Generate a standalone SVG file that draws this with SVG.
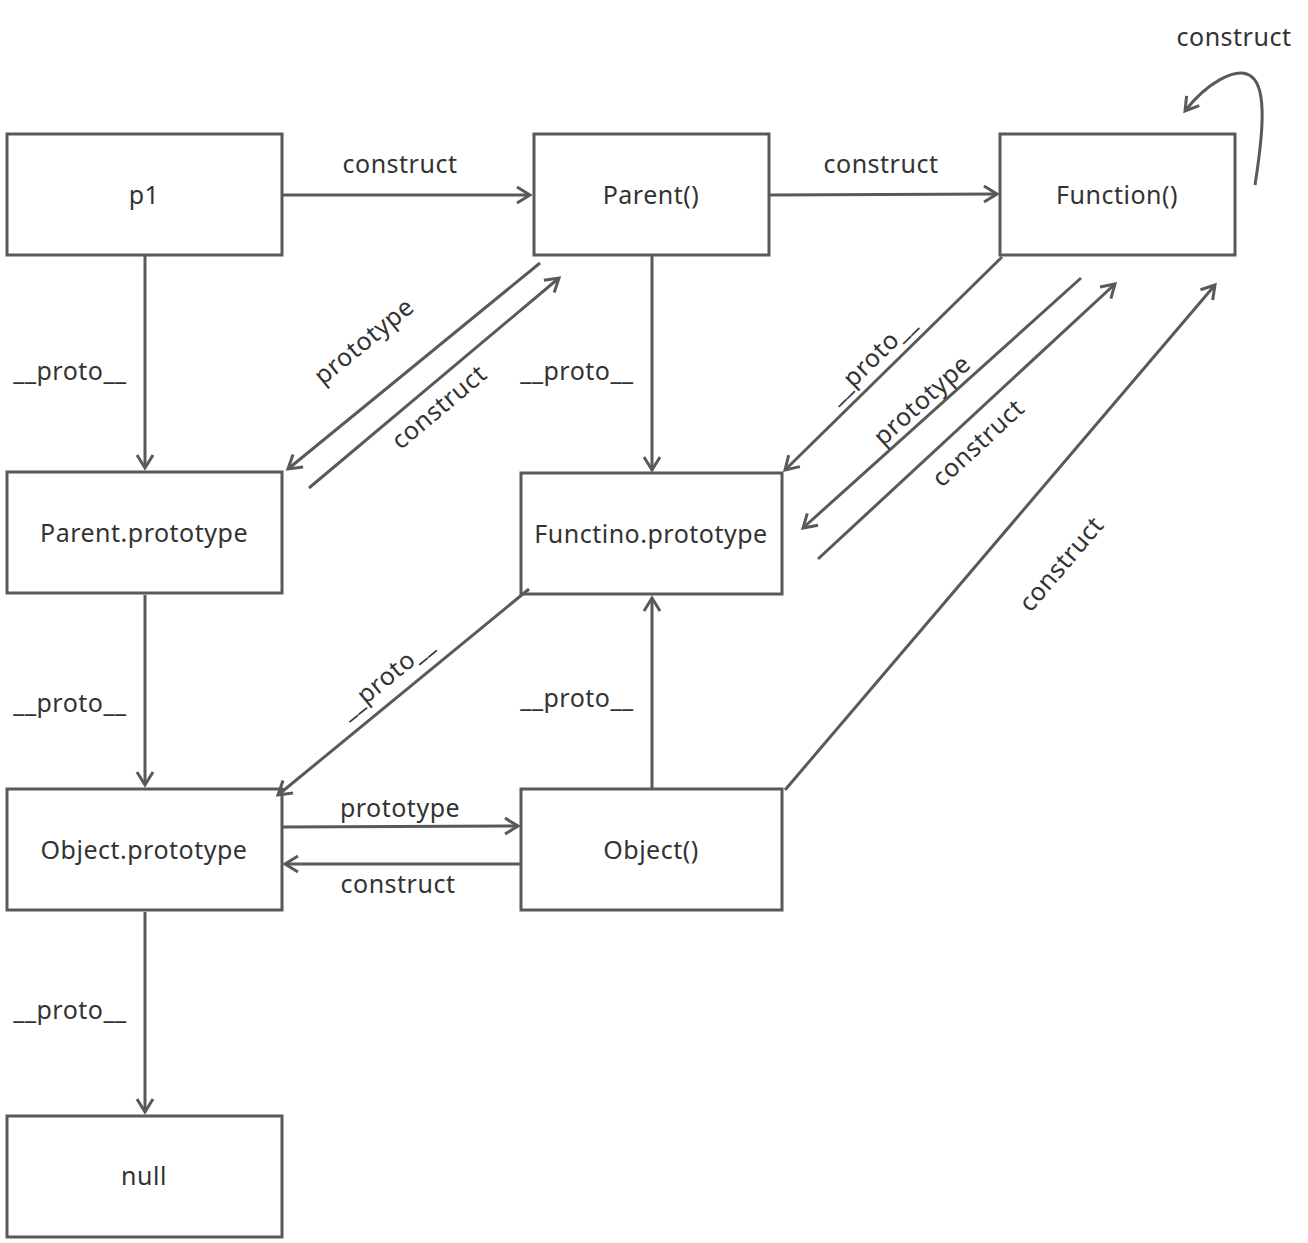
<svg xmlns="http://www.w3.org/2000/svg" width="1308" height="1243" viewBox="0 0 1308 1243">
<defs>
<marker id="ah" viewBox="0 0 20 20" refX="16" refY="10" markerWidth="20" markerHeight="20" markerUnits="userSpaceOnUse" orient="auto">
<path d="M3,2 L16,10 L3,18" fill="none" stroke="#595959" stroke-width="3"/>
</marker>
</defs>
<style>
.box{fill:#fff;stroke:#595959;stroke-width:3}
.t{font-family:"Noto Sans","Open Sans",sans-serif;font-size:25px;letter-spacing:0.5px;fill:#333;text-anchor:middle;dominant-baseline:central}
.c{fill:none;stroke:#595959;stroke-width:3;marker-end:url(#ah)}
</style>
<rect width="1308" height="1243" fill="#fff"/>
<g id="p1"><rect class="box" x="7" y="134" width="275" height="121"/><text class="t" x="144" y="194">p1</text></g>
<g id="parent"><rect class="box" x="534" y="134" width="235" height="121"/><text class="t" x="651" y="194">Parent()</text></g>
<g id="function"><rect class="box" x="1000" y="134" width="235" height="121"/><text class="t" x="1117" y="194">Function()</text></g>
<g id="parentproto"><rect class="box" x="7" y="472" width="275" height="121"/><text class="t" x="144" y="532">Parent.prototype</text></g>
<g id="funcproto"><rect class="box" x="521" y="473" width="261" height="121"/><text class="t" x="651" y="533">Functino.prototype</text></g>
<g id="objproto"><rect class="box" x="7" y="789" width="275" height="121"/><text class="t" x="144" y="849">Object.prototype</text></g>
<g id="object"><rect class="box" x="521" y="789" width="261" height="121"/><text class="t" x="651" y="849">Object()</text></g>
<g id="null"><rect class="box" x="7" y="1116" width="275" height="121"/><text class="t" x="144" y="1175">null</text></g>
<g id="connectors">
<line class="c" x1="283" y1="195" x2="530" y2="195"/>
<text class="t" x="400" y="163">construct</text>
<line class="c" x1="770" y1="195" x2="997" y2="194"/>
<text class="t" x="881" y="163">construct</text>
<line class="c" x1="145" y1="256" x2="145" y2="468"/>
<text class="t" x="70" y="370">__proto__</text>
<line class="c" x1="540" y1="263" x2="288" y2="469"/>
<text class="t" transform="translate(363,340) rotate(-39.3)">prototype</text>
<line class="c" x1="309" y1="488" x2="559" y2="278"/>
<text class="t" transform="translate(438,406) rotate(-40)">construct</text>
<line class="c" x1="652" y1="256" x2="652" y2="470"/>
<text class="t" x="577" y="370">__proto__</text>
<line class="c" x1="1002" y1="257" x2="785" y2="470"/>
<text class="t" transform="translate(870,358) rotate(-44.5)">__proto__</text>
<line class="c" x1="1081" y1="278" x2="803" y2="528"/>
<text class="t" transform="translate(921,399) rotate(-42)">prototype</text>
<line class="c" x1="818" y1="559" x2="1115" y2="284"/>
<text class="t" transform="translate(977,442) rotate(-42.8)">construct</text>
<line class="c" x1="785" y1="790" x2="1215" y2="285"/>
<text class="t" transform="translate(1060,563) rotate(-49.6)">construct</text>
<line class="c" x1="529" y1="589" x2="278" y2="795"/>
<text class="t" transform="translate(385,676) rotate(-39.4)">__proto__</text>
<line class="c" x1="652" y1="788" x2="652" y2="598"/>
<text class="t" x="577" y="697">__proto__</text>
<line class="c" x1="283" y1="827" x2="518" y2="826"/>
<text class="t" x="400" y="807">prototype</text>
<line class="c" x1="520" y1="864" x2="285" y2="864"/>
<text class="t" x="398" y="883">construct</text>
<line class="c" x1="145" y1="595" x2="145" y2="785"/>
<text class="t" x="70" y="702">__proto__</text>
<line class="c" x1="145" y1="912" x2="145" y2="1112"/>
<text class="t" x="70" y="1009">__proto__</text>
<path class="c" d="M1255,185 C1262,140 1268,90 1252,77 C1237,64 1205,85 1185,111"/>
<text class="t" x="1234" y="36">construct</text>
</g>
</svg>
